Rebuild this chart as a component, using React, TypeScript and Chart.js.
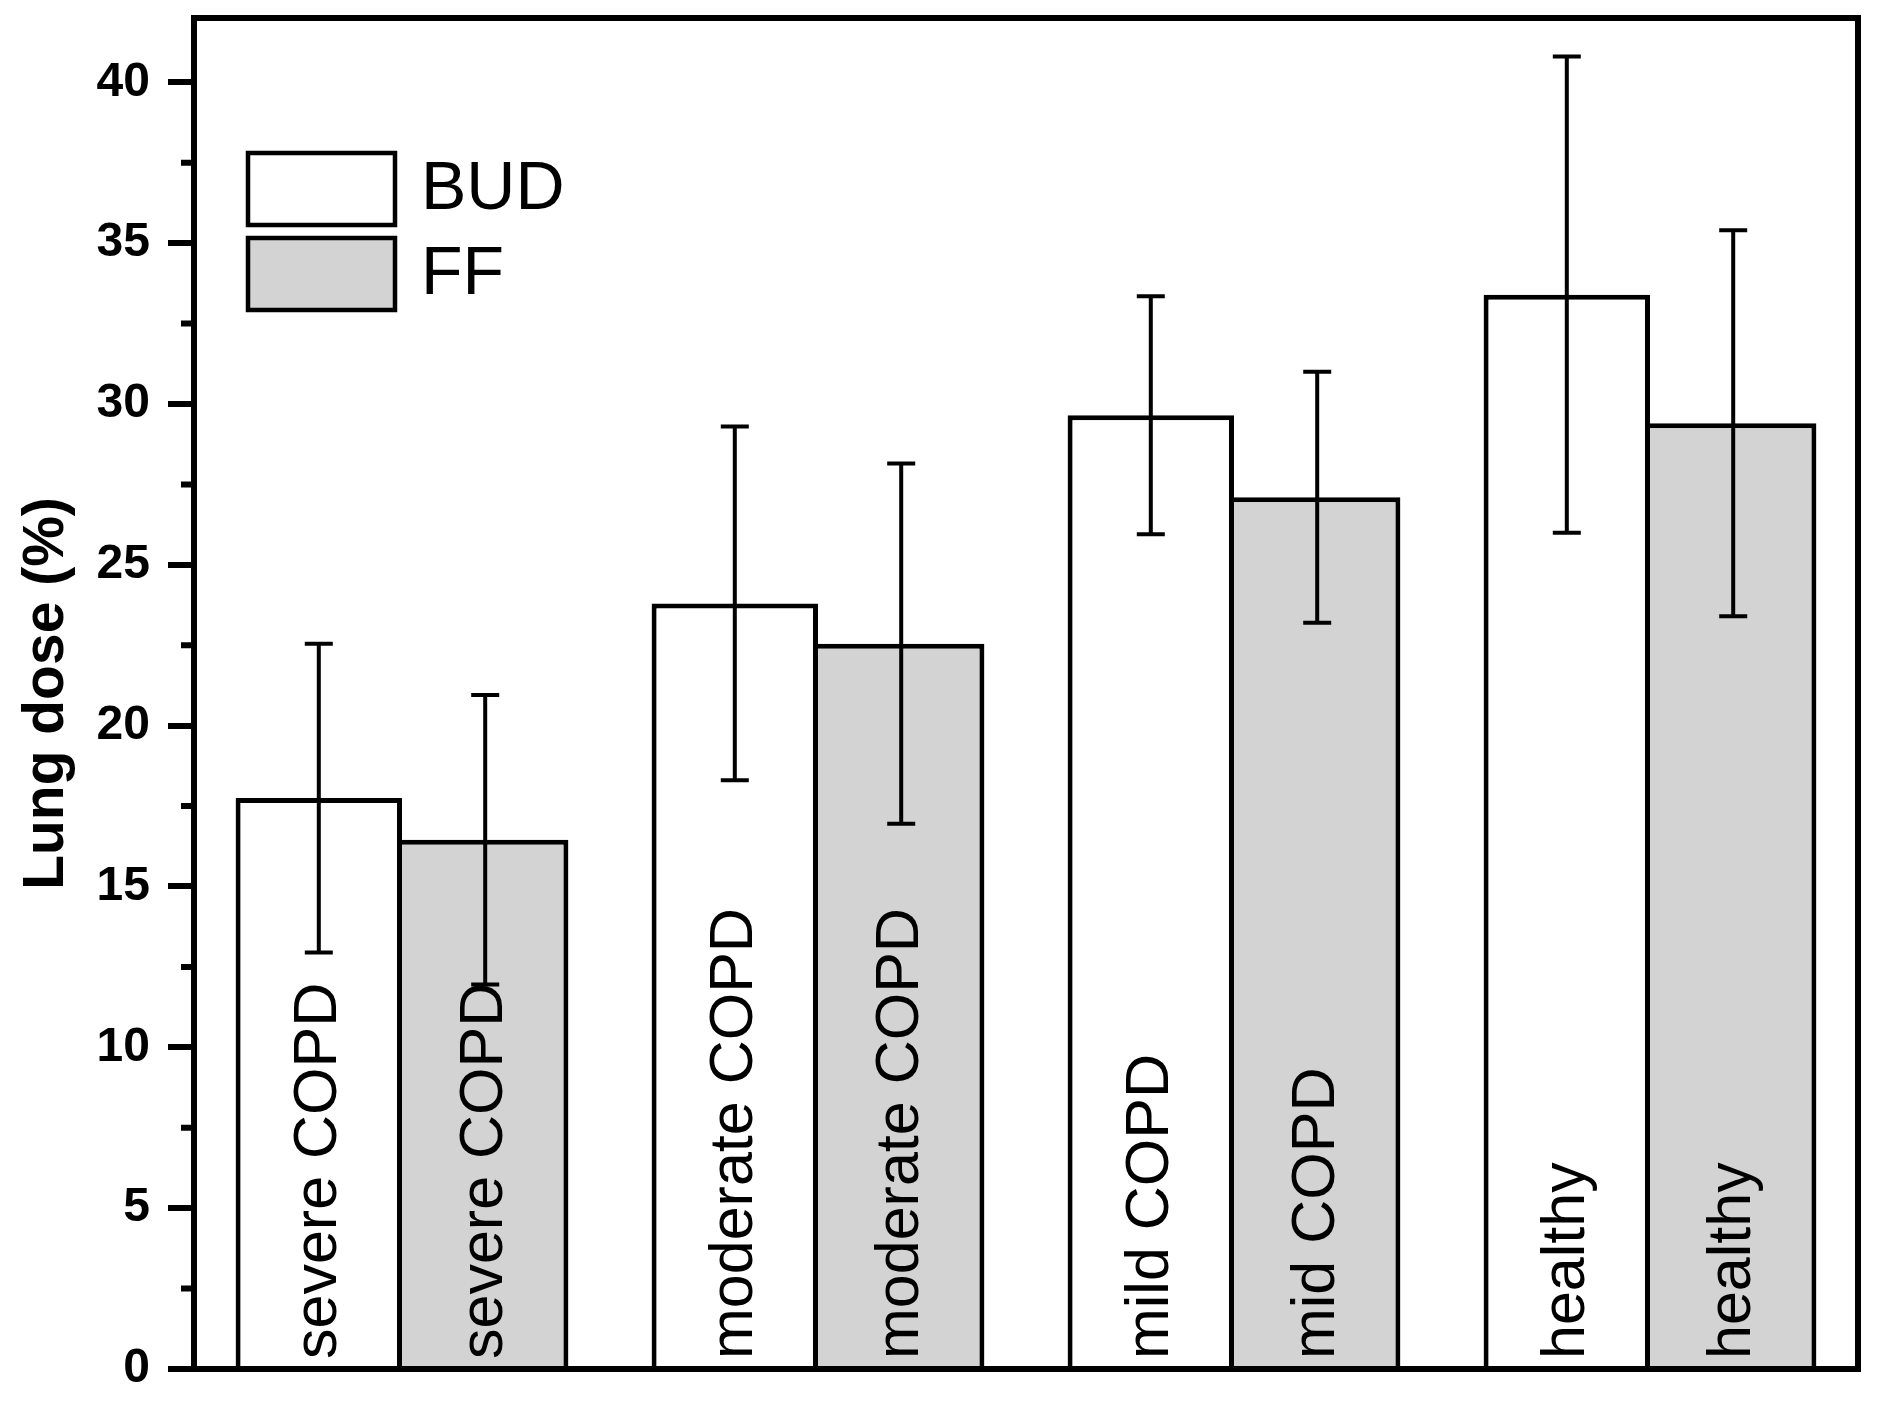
import React, { useEffect, useRef } from 'react';
import { Chart, registerables } from 'chart.js';

Chart.register(...registerables);

const FONT = '"Liberation Sans", Arial, sans-serif';

// groups on the x axis
const groups = ['severe COPD', 'moderate COPD', 'mild COPD', 'healthy'];
// text written inside each bar (the FF one says "mid COPD" in the original)
const budLabels = ['severe COPD', 'moderate COPD', 'mild COPD', 'healthy'];
const ffLabels = ['severe COPD', 'moderate COPD', 'mid COPD', 'healthy'];

// lung dose (%) mean and SD
const budMean = [17.75, 23.8, 29.65, 33.4];
const budSd = [4.8, 5.5, 3.7, 7.4];
const ffMean = [16.45, 22.55, 27.1, 29.4];
const ffSd = [4.5, 5.6, 3.9, 6.0];

const minorTicks = [2.5, 7.5, 12.5, 17.5, 22.5, 27.5, 32.5, 37.5];

const barLabelSets = [budLabels, ffLabels];
const sdSets = [budSd, ffSd];

const extras = {
  id: 'extras',
  afterDatasetsDraw(chart: any) {
    const { ctx, chartArea } = chart;
    const y = chart.scales.y;
    chart.data.datasets.forEach((ds: any, di: number) => {
      const meta = chart.getDatasetMeta(di);
      meta.data.forEach((bar: any, i: number) => {
        // rotated label inside the bar
        ctx.save();
        ctx.translate(bar.x, chartArea.bottom - 10);
        ctx.rotate(-Math.PI / 2);
        ctx.font = `61px ${FONT}`;
        ctx.fillStyle = '#000';
        ctx.textAlign = 'left';
        ctx.textBaseline = 'middle';
        ctx.fillText(barLabelSets[di][i], 0, 0);
        ctx.restore();

        // error bar
        const v = ds.data[i];
        const sd = sdSets[di][i];
        const top = y.getPixelForValue(v + sd);
        const bot = y.getPixelForValue(v - sd);
        ctx.save();
        ctx.strokeStyle = '#000';
        ctx.lineWidth = 4;
        ctx.beginPath();
        ctx.moveTo(bar.x, top);
        ctx.lineTo(bar.x, bot);
        ctx.moveTo(bar.x - 14, top);
        ctx.lineTo(bar.x + 14, top);
        ctx.moveTo(bar.x - 14, bot);
        ctx.lineTo(bar.x + 14, bot);
        ctx.stroke();
        ctx.restore();
      });
    });
  },
  afterDraw(chart: any) {
    const { ctx, chartArea } = chart;
    const y = chart.scales.y;
    ctx.save();
    ctx.strokeStyle = '#000';

    // minor ticks
    ctx.lineWidth = 6;
    ctx.beginPath();
    minorTicks.forEach((v) => {
      const py = y.getPixelForValue(v);
      ctx.moveTo(chartArea.left - 13, py);
      ctx.lineTo(chartArea.left, py);
    });
    ctx.stroke();

    // frame
    ctx.lineWidth = 6;
    ctx.strokeRect(chartArea.left, chartArea.top, chartArea.right - chartArea.left, chartArea.bottom - chartArea.top);

    // legend
    const lx = chartArea.left + 54;
    let ly = chartArea.top + 135;
    chart.data.datasets.forEach((ds: any) => {
      ctx.fillStyle = ds.backgroundColor;
      ctx.fillRect(lx, ly, 147, 72);
      ctx.lineWidth = 4.5;
      ctx.strokeRect(lx, ly, 147, 72);
      ctx.fillStyle = '#000';
      ctx.font = `68px ${FONT}`;
      ctx.textAlign = 'left';
      ctx.textBaseline = 'middle';
      ctx.fillText(ds.label, lx + 173, ly + 37);
      ly += 85;
    });
    ctx.restore();
  },
};

export default function App() {
  const canvasRef = useRef<HTMLCanvasElement>(null);

  useEffect(() => {
    if (!canvasRef.current) return;
    const chart = new Chart(canvasRef.current, {
      type: 'bar',
      data: {
        labels: groups,
        datasets: [
          {
            label: 'BUD',
            data: budMean,
            backgroundColor: '#ffffff',
            borderColor: '#000000',
            borderWidth: { top: 5, left: 5, right: 5, bottom: 0 },
            borderSkipped: 'start',
          },
          {
            label: 'FF',
            data: ffMean,
            backgroundColor: '#d3d3d3',
            borderColor: '#000000',
            borderWidth: { top: 5, left: 0, right: 5, bottom: 0 },
            borderSkipped: 'start',
          },
        ],
      },
      options: {
        animation: false,
        responsive: false,
        devicePixelRatio: 1,
        layout: { padding: { left: 0, top: 18, right: 20, bottom: 40 } },
        datasets: { bar: { categoryPercentage: 0.8, barPercentage: 1.0 } },
        plugins: {
          legend: { display: false },
          tooltip: { enabled: false },
        },
        scales: {
          x: {
            type: 'category',
            ticks: { display: false },
            grid: { display: false },
            border: { display: true, color: '#000', width: 6 },
            afterFit: (s: any) => {
              s.height = 0;
              s.paddingLeft = 0;
              s.paddingRight = 0;
            },
          },
          y: {
            min: 0,
            max: 42,
            ticks: {
              stepSize: 5,
              includeBounds: false,
              color: '#000',
              padding: 18,
              font: { family: FONT, size: 48, weight: 'bold' },
            },
            grid: {
              drawOnChartArea: false,
              drawTicks: true,
              tickLength: 26,
              tickWidth: 6,
              lineWidth: 6,
              tickColor: '#000',
              color: '#000',
            },
            border: { display: true, color: '#000', width: 6 },
            title: {
              display: true,
              text: 'Lung dose (%)',
              color: '#000',
              font: { family: FONT, size: 57, weight: 'bold' },
              padding: { top: 13, bottom: 0 },
            },
            afterFit: (s: any) => {
              s.width = 194;
              s.paddingTop = 0;
              s.paddingBottom = 0;
            },
          },
        },
      },
      plugins: [extras],
    } as any);
    return () => chart.destroy();
  }, []);

  return (
    <div style={{ position: 'absolute', left: 0, top: 0, width: 1878, height: 1409, background: '#fff' }}>
      <canvas ref={canvasRef} width={1878} height={1409} style={{ display: 'block' }} />
    </div>
  );
}
